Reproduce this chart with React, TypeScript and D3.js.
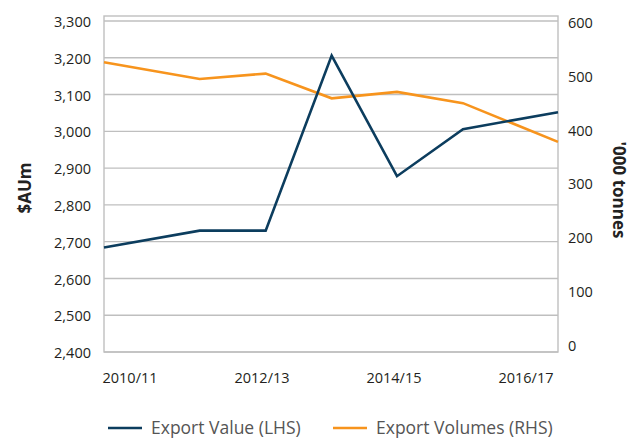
import * as d3 from 'd3';

const periods = ['2010/11', '2011/12', '2012/13', '2013/14', '2014/15', '2015/16', '2016/17'];
const periodPos = [0, 1.45, 2.45, 3.45, 4.44, 5.44, 6.88];
const exportValue = [2684, 2730, 2730, 3206, 2878, 3006, 3052];
const exportVolumes = [525, 494, 504, 458, 470, 449, 377];

const xTickLabels = ['2010/11', '2012/13', '2014/15', '2016/17'];
const xTickPos = [0, 2, 4, 6];
const leftTicks = [2400, 2500, 2600, 2700, 2800, 2900, 3000, 3100, 3200, 3300];
const rightTicks = [0, 100, 200, 300, 400, 500, 600];

const series = [
  { label: 'Export Value (LHS)', color: '#0c3d5e' },
  { label: 'Export Volumes (RHS)', color: '#f7941d' },
];

const W = 632;
const H = 438;
const plot = { left: 104, right: 558, top: 16, bottom: 352 };
const font = '"Open Sans", "Noto Sans", sans-serif';
const grid = '#bfbfbf';

export default function App() {
  const x = d3.scaleLinear().domain([0, 6.88]).range([plot.left, plot.right]);
  const yL = d3.scaleLinear().domain([2400, 3300]).range([plot.bottom, 21]);
  const yR = d3.scaleLinear().domain([0, 600]).range([344.5, 22]);

  const valueLine = d3
    .line<number>()
    .x((_, i) => x(periodPos[i]))
    .y((d) => yL(d));
  const volumeLine = d3
    .line<number>()
    .x((_, i) => x(periodPos[i]))
    .y((d) => yR(d));

  const fmt = d3.format(',');

  return (
    <svg
      width={W}
      height={H}
      style={{ position: 'absolute', left: 0, top: 0, background: '#fff' }}
      fontFamily={font}
    >
      {/* gridlines */}
      {leftTicks.map((t) => (
        <line key={t} x1={plot.left} x2={plot.right} y1={yL(t)} y2={yL(t)} stroke={grid} strokeWidth={1.4} />
      ))}
      <rect
        x={plot.left}
        y={plot.top}
        width={plot.right - plot.left}
        height={plot.bottom - plot.top}
        fill="none"
        stroke={grid}
        strokeWidth={1.4}
      />

      {/* left axis */}
      {leftTicks.map((t) => (
        <text key={t} x={91} y={yL(t) + 1} dy="0.35em" textAnchor="end" fontSize={14.5} fill="#231f20">
          {fmt(t)}
        </text>
      ))}
      {/* right axis */}
      {rightTicks.map((t) => (
        <text key={t} x={568} y={yR(t) + 1} dy="0.35em" textAnchor="start" fontSize={14.5} fill="#231f20">
          {t}
        </text>
      ))}
      {/* x axis labels */}
      {xTickLabels.map((l, i) => (
        <text key={l} x={x(xTickPos[i]) - 1.5} y={383} textAnchor="start" fontSize={14.5} fill="#231f20">
          {l}
        </text>
      ))}

      {/* axis titles */}
      <text
        transform={`translate(31,${(plot.top + plot.bottom) / 2 + 4}) rotate(-90)`}
        textAnchor="middle"
        fontSize={17}
        fontWeight="bold"
        fill="#222"
      >
        $AUm
      </text>
      <text
        transform={`translate(613,${(plot.top + plot.bottom) / 2 + 6}) rotate(90)`}
        textAnchor="middle"
        fontSize={17}
        fontWeight="bold"
        fill="#222"
      >
        '000 tonnes
      </text>

      {/* series */}
      <path d={volumeLine(exportVolumes) ?? ''} fill="none" stroke={series[1].color} strokeWidth={2.6} />
      <path d={valueLine(exportValue) ?? ''} fill="none" stroke={series[0].color} strokeWidth={2.6} />

      {/* legend */}
      {series.map((s, i) => {
        const lx = i === 0 ? 108 : 333;
        return (
          <g key={s.label} transform={`translate(${lx},428)`}>
            <line x1={0} x2={34} y1={0} y2={0} stroke={s.color} strokeWidth={2.6} />
            <text x={43} y={6} fontSize={17.5} fill="#555">
              {s.label}
            </text>
          </g>
        );
      })}
      <title>{periods.join(', ')}</title>
    </svg>
  );
}
